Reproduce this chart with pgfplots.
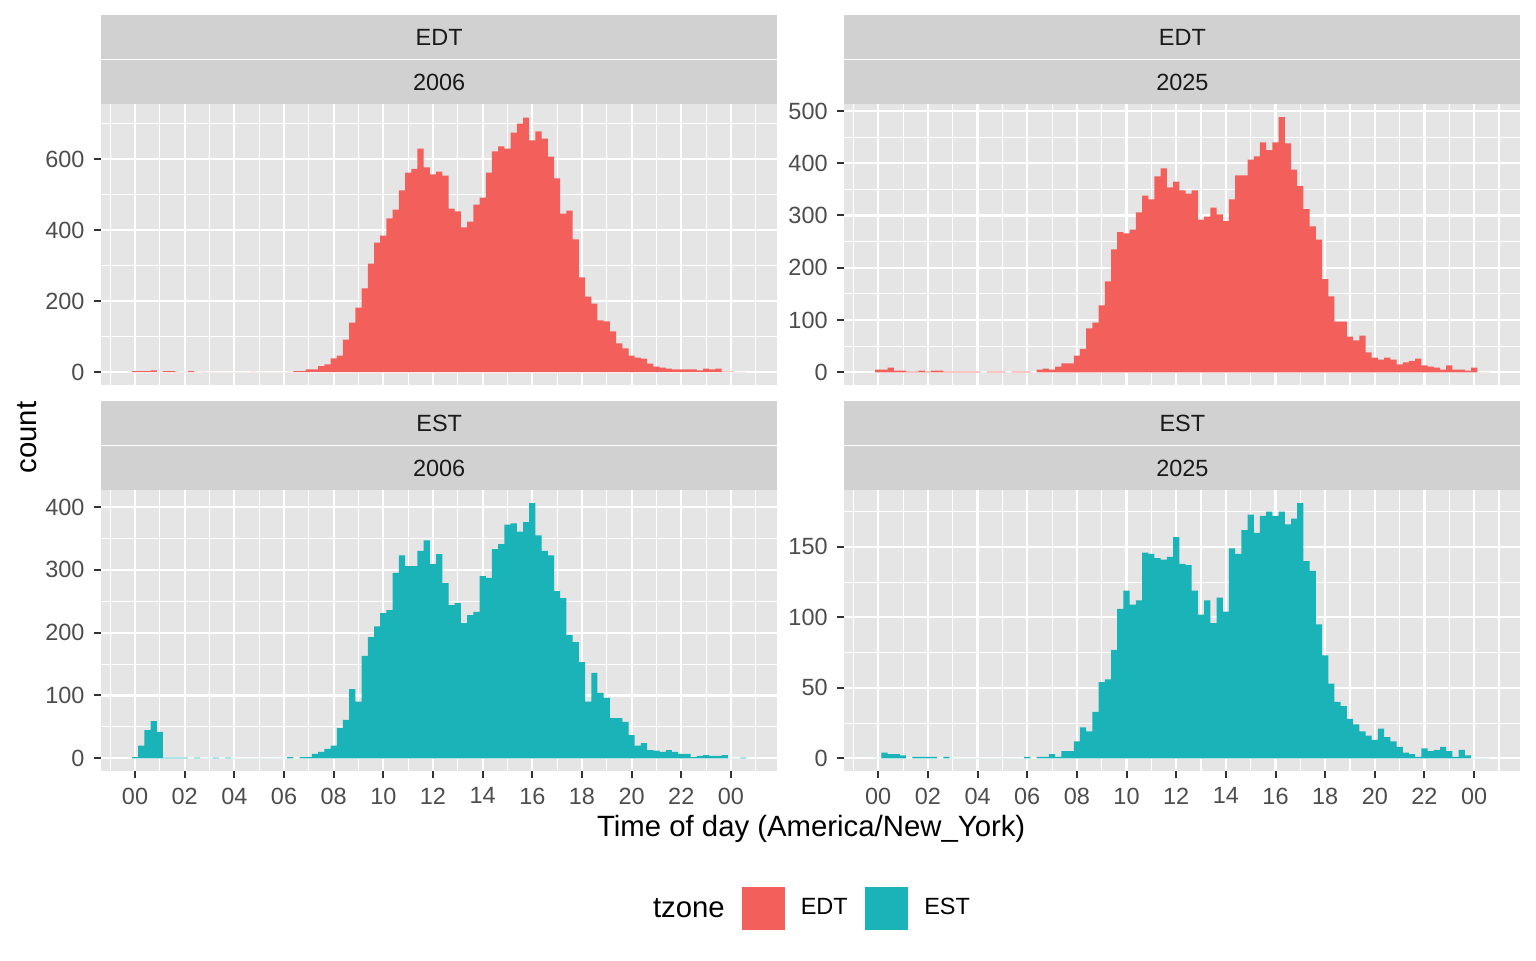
\documentclass[border=0pt]{standalone}
\usepackage{fontspec}
\setmainfont{Liberation Sans}
\usepackage{pgfplots}
\usepackage{pgfplotstable}
\pgfplotsset{compat=1.18}

\definecolor{cEDT}{HTML}{F35F5A}
\definecolor{cEST}{HTML}{1AB3B7}
\definecolor{panelbg}{HTML}{E5E5E5}
\definecolor{stripbg}{HTML}{D1D1D1}
\definecolor{tickc}{HTML}{333333}
\definecolor{labc}{HTML}{4D4D4D}
\definecolor{stript}{HTML}{1A1A1A}

% 15-minute bins, h = bin centre (hours), n = count; last row closes the step
\pgfplotstableread[row sep=\\]{
h n\\
0 3\\0.25 3\\0.5 3\\0.75 5\\1 1\\1.25 3\\1.5 3\\1.75 1\\2 0\\2.25 3\\2.5 1\\2.75 1\\
3 0\\3.25 0\\3.5 0\\3.75 0\\4 0\\4.25 0\\4.5 0\\4.75 1\\5 0\\5.25 0\\5.5 0\\5.75 0\\
6 0\\6.25 1\\6.5 3\\6.75 3\\7 8\\7.25 8\\7.5 17\\7.75 22\\8 39\\8.25 47\\8.5 92\\8.75 140\\
9 182\\9.25 236\\9.5 306\\9.75 365\\10 385\\10.25 433\\10.5 458\\10.75 512\\11 562\\11.25 573\\11.5 630\\11.75 577\\
12 557\\12.25 565\\12.5 554\\12.75 461\\13 453\\13.25 408\\13.5 424\\13.75 472\\14 492\\14.25 562\\14.5 622\\14.75 636\\
15 630\\15.25 675\\15.5 700\\15.75 717\\16 653\\16.25 678\\16.5 658\\16.75 607\\17 546\\17.25 447\\17.5 455\\17.75 374\\
18 267\\18.25 213\\18.5 193\\18.75 146\\19 143\\19.25 115\\19.5 81\\19.75 67\\20 47\\20.25 41\\20.5 38\\20.75 24\\
21 16\\21.25 13\\21.5 10\\21.75 8\\22 8\\22.25 8\\22.5 8\\22.75 5\\23 10\\23.25 8\\23.5 10\\23.75 2\\
24 2\\24.25 0\\24.5 0\\24.75 0\\
}\tEDTa

\pgfplotstableread[row sep=\\]{
h n\\
0 5\\0.25 5\\0.5 9\\0.75 3\\1 3\\1.25 1\\1.5 1\\1.75 3\\2 1\\2.25 3\\2.5 3\\2.75 1\\
3 1\\3.25 1\\3.5 1\\3.75 1\\4 1\\4.25 0\\4.5 1\\4.75 1\\5 1\\5.25 0\\5.5 1\\5.75 1\\
6 1\\6.25 0\\6.5 5\\6.75 7\\7 5\\7.25 11\\7.5 17\\7.75 17\\8 32\\8.25 45\\8.5 84\\8.75 95\\
9 128\\9.25 174\\9.5 235\\9.75 268\\10 266\\10.25 273\\10.5 306\\10.75 338\\11 331\\11.25 375\\11.5 390\\11.75 354\\
12 365\\12.25 348\\12.5 342\\12.75 348\\13 292\\13.25 298\\13.5 315\\13.75 302\\14 289\\14.25 331\\14.5 377\\14.75 377\\
15 407\\15.25 413\\15.5 440\\15.75 425\\16 440\\16.25 488\\16.5 438\\16.75 388\\17 356\\17.25 312\\17.5 279\\17.75 254\\
18 178\\18.25 145\\18.5 97\\18.75 97\\19 68\\19.25 61\\19.5 70\\19.75 38\\20 28\\20.25 24\\20.5 28\\20.75 24\\
21 15\\21.25 19\\21.5 22\\21.75 26\\22 13\\22.25 11\\22.5 9\\22.75 5\\23 13\\23.25 5\\23.5 5\\23.75 3\\
24 9\\24.25 0\\24.5 0\\24.75 0\\
}\tEDTb

\pgfplotstableread[row sep=\\]{
h n\\
0 2\\0.25 20\\0.5 45\\0.75 59\\1 42\\1.25 1\\1.5 1\\1.75 1\\2 1\\2.25 0\\2.5 1\\2.75 0\\
3 0\\3.25 1\\3.5 0\\3.75 1\\4 0\\4.25 0\\4.5 0\\4.75 0\\5 0\\5.25 0\\5.5 0\\5.75 0\\
6 0\\6.25 2\\6.5 0\\6.75 2\\7 2\\7.25 7\\7.5 10\\7.75 15\\8 20\\8.25 48\\8.5 61\\8.75 110\\
9 90\\9.25 163\\9.5 193\\9.75 210\\10 231\\10.25 236\\10.5 295\\10.75 323\\11 306\\11.25 306\\11.5 330\\11.75 347\\
12 309\\12.25 325\\12.5 279\\12.75 244\\13 247\\13.25 215\\13.5 228\\13.75 233\\14 290\\14.25 287\\14.5 333\\14.75 341\\
15 372\\15.25 374\\15.5 361\\15.75 376\\16 406\\16.25 355\\16.5 330\\16.75 323\\17 266\\17.25 255\\17.5 196\\17.75 185\\
18 153\\18.25 90\\18.5 136\\18.75 104\\19 96\\19.25 64\\19.5 64\\19.75 58\\20 37\\20.25 20\\20.5 24\\20.75 13\\
21 12\\21.25 10\\21.5 13\\21.75 10\\22 7\\22.25 7\\22.5 2\\22.75 4\\23 5\\23.25 4\\23.5 4\\23.75 5\\
24 0\\24.25 0\\24.5 1\\24.75 0\\
}\tESTa

\pgfplotstableread[row sep=\\]{
h n\\
0 0\\0.25 4\\0.5 3\\0.75 3\\1 2\\1.25 0\\1.5 1\\1.75 1\\2 1\\2.25 1\\2.5 0\\2.75 1\\
3 0\\3.25 0\\3.5 0\\3.75 0\\4 0\\4.25 0\\4.5 0\\4.75 0\\5 0\\5.25 0\\5.5 0\\5.75 0\\
6 1\\6.25 0\\6.5 1\\6.75 1\\7 3\\7.25 1\\7.5 5\\7.75 5\\8 12\\8.25 22\\8.5 19\\8.75 33\\
9 54\\9.25 56\\9.5 77\\9.75 106\\10 119\\10.25 109\\10.5 112\\10.75 146\\11 145\\11.25 142\\11.5 141\\11.75 143\\
12 157\\12.25 138\\12.5 137\\12.75 119\\13 102\\13.25 112\\13.5 96\\13.75 114\\14 104\\14.25 149\\14.5 145\\14.75 162\\
15 173\\15.25 160\\15.5 172\\15.75 175\\16 172\\16.25 175\\16.5 166\\16.75 170\\17 181\\17.25 140\\17.5 133\\17.75 95\\
18 73\\18.25 53\\18.5 40\\18.75 37\\19 28\\19.25 24\\19.5 19\\19.75 16\\20 13\\20.25 21\\20.5 15\\20.75 12\\
21 8\\21.25 4\\21.5 3\\21.75 1\\22 7\\22.25 5\\22.5 6\\22.75 8\\23 5\\23.25 1\\23.5 6\\23.75 2\\
24 0\\24.25 0\\24.5 0\\24.75 0\\
}\tESTb

\pgfplotsset{
  facet/.style={
    scale only axis, width=253.5pt, height=105.2pt,
    xmin=-1.3625, xmax=25.8625,
    axis background/.style={fill=panelbg},
    axis line style={draw=none},
    grid=both,
    major grid style={white, line width=0.8pt},
    minor grid style={white, line width=0.4pt},
    xtick={0,2,...,24},
    minor xtick={-1,1,...,25},
    tick align=outside, tick pos=left,
    major tick length=2.75pt, minor tick length=0pt,
    tick style={color=tickc, line width=0.75pt},
    ticklabel style={font=\fontsize{8.8}{10}\selectfont, text=labc},
    scaled y ticks=false,
    yticklabel={\pgfmathprintnumber[assume math mode=true]{\tick}},
  },
  bottomrow/.style={
    xticklabels={00,02,04,06,08,10,12,14,16,18,20,22,00},
  },
  toprow/.style={
    xticklabels={}, xtick style={draw=none},
  },
  hist/.style={const plot mark left, draw=none, forget plot},
}

\begin{document}
\begin{tikzpicture}
\useasboundingbox (0,0) rectangle (576pt,-360pt);

% strips
\fill[stripbg] (37.95pt,-5.625pt) rectangle (291.45pt,-39.175pt);
\fill[stripbg] (316.65pt,-5.625pt) rectangle (570.15pt,-39.175pt);
\fill[stripbg] (37.95pt,-150.375pt) rectangle (291.45pt,-183.925pt);
\fill[stripbg] (316.65pt,-150.375pt) rectangle (570.15pt,-183.925pt);
\draw[white, line width=0.3pt] (37.95pt,-22.35pt) -- (291.45pt,-22.35pt);
\draw[white, line width=0.3pt] (316.65pt,-22.35pt) -- (570.15pt,-22.35pt);
\draw[white, line width=0.3pt] (37.95pt,-167.14pt) -- (291.45pt,-167.14pt);
\draw[white, line width=0.3pt] (316.65pt,-167.14pt) -- (570.15pt,-167.14pt);
\begin{scope}[every node/.style={font=\fontsize{8.8}{10}\selectfont, text=stript}]
\node at (164.7pt,-13.99pt) {EDT};
\node at (164.7pt,-30.73pt) {2006};
\node at (443.4pt,-13.99pt) {EDT};
\node at (443.4pt,-30.73pt) {2025};
\node at (164.7pt,-158.76pt) {EST};
\node at (164.7pt,-175.54pt) {2006};
\node at (443.4pt,-158.76pt) {EST};
\node at (443.4pt,-175.54pt) {2025};
\end{scope}

% EDT 2006
\begin{axis}[facet, toprow, at={(37.95pt,-144.375pt)}, anchor=south west,
  ymin=-36, ymax=754, ytick={0,200,400,600}, minor ytick={100,300,500,700}]
\addplot[hist, fill=cEDT] table[x expr=\thisrow{h}-0.125, y=n]{\tEDTa} \closedcycle;
\end{axis}

% EDT 2025
\begin{axis}[facet, toprow, at={(316.65pt,-144.375pt)}, anchor=south west,
  ymin=-24.4, ymax=512.4, ytick={0,100,...,500}, minor ytick={50,150,...,450}]
\addplot[hist, fill=cEDT] table[x expr=\thisrow{h}-0.125, y=n]{\tEDTb} \closedcycle;
\end{axis}

% EST 2006 (carries the legend)
\begin{axis}[facet, bottomrow, at={(37.95pt,-289.125pt)}, anchor=south west,
  ymin=-20.3, ymax=426.3, ytick={0,100,...,400}, minor ytick={50,150,...,350},
  legend columns=2,
  legend image code/.code={\fill[#1, draw=none] (0pt,-8.05pt) rectangle (16.1pt,8.05pt);},
  legend style={at={(0.947,-0.490)}, anchor=west, draw=none, fill=none,
    inner sep=0pt, font=\fontsize{8.8}{10}\selectfont,
    nodes={inner sep=0pt, text=black},
    /tikz/every odd column/.append style={column sep=6.0pt},
    /tikz/every even column/.append style={column sep=6.6pt}},
  legend cell align=left]
\addplot[hist, fill=cEST] table[x expr=\thisrow{h}-0.125, y=n]{\tESTa} \closedcycle;
\addlegendimage{fill=cEDT, draw=none}
\addlegendentry{EDT}
\addlegendimage{fill=cEST, draw=none}
\addlegendentry{EST}
\end{axis}

% EST 2025
\begin{axis}[facet, bottomrow, at={(316.65pt,-289.125pt)}, anchor=south west,
  ymin=-9.05, ymax=190.05, ytick={0,50,100,150}, minor ytick={25,75,125,175}]
\addplot[hist, fill=cEST] table[x expr=\thisrow{h}-0.125, y=n]{\tESTb} \closedcycle;
\end{axis}

% titles
\node[font=\fontsize{11}{13}\selectfont] at (304.2pt,-310.9pt) {Time of day (America/New\_York)};
\node[font=\fontsize{11}{13}\selectfont, rotate=90] at (10.1pt,-164.1pt) {count};
\node[font=\fontsize{11}{13}\selectfont, anchor=east, inner sep=0pt] at (272.0pt,-340.7pt) {tzone};
\end{tikzpicture}
\end{document}
